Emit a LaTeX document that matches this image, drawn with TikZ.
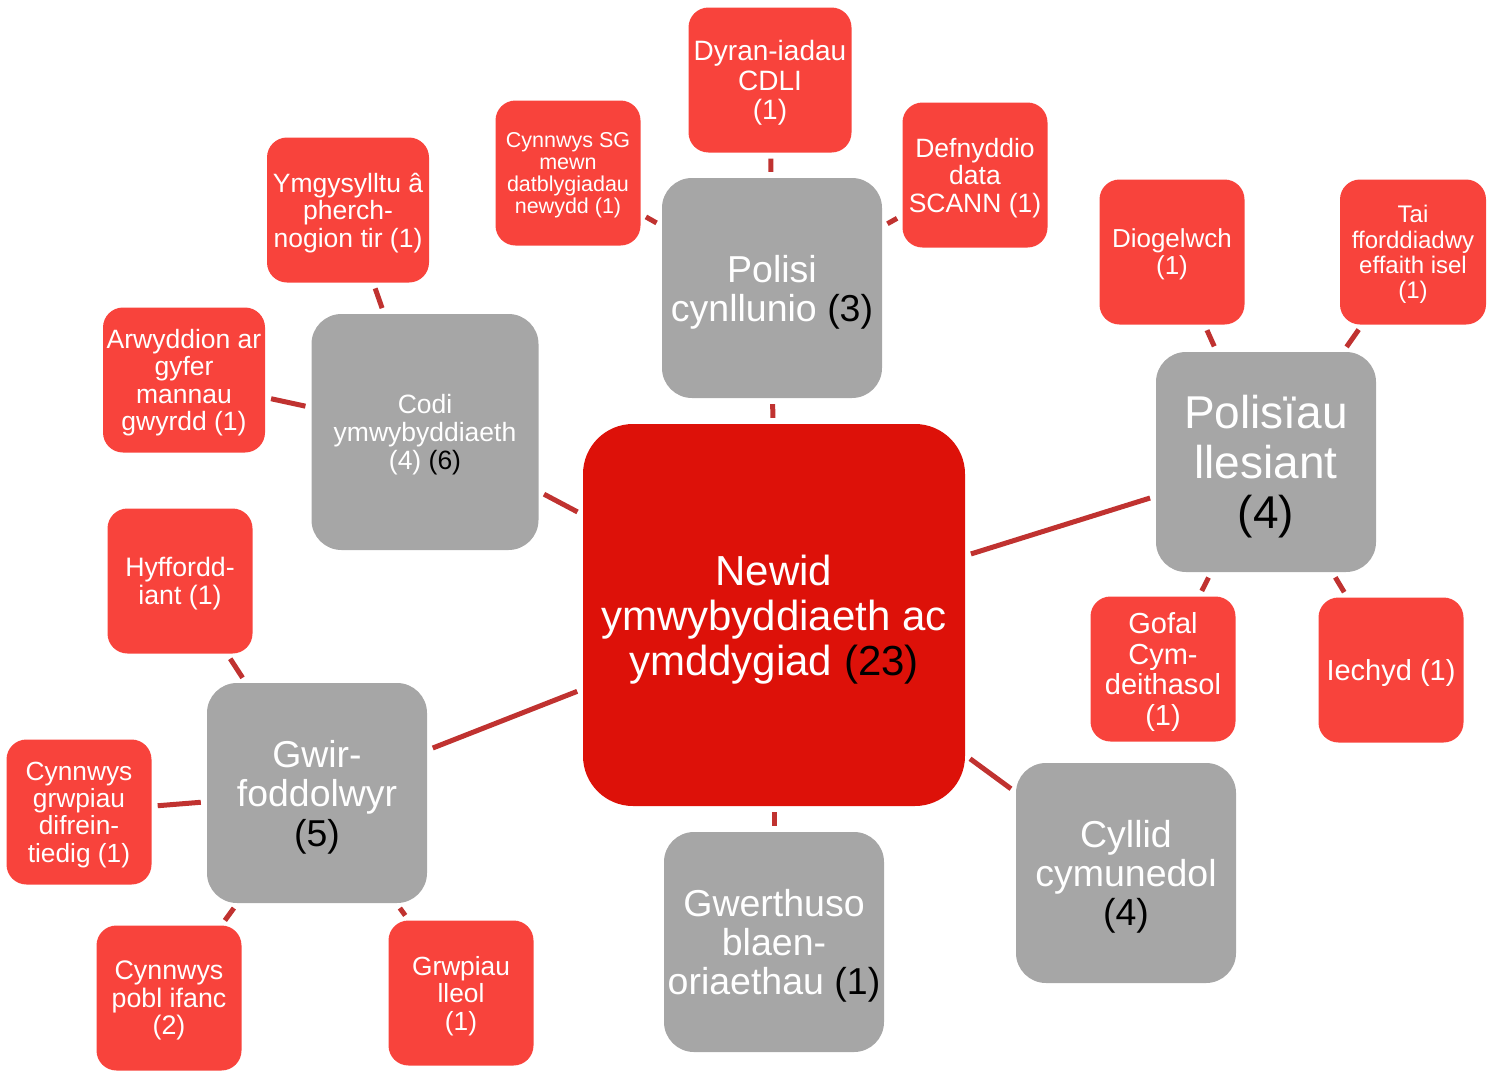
\documentclass[tikz,border=0pt]{standalone}
\usepackage{fontspec}
\setmainfont{Liberation Sans}
\definecolor{hubred}{RGB}{221,17,9}
\definecolor{leafred}{RGB}{248,67,60}
\definecolor{topicgray}{RGB}{166,166,166}
\definecolor{linkred}{RGB}{192,50,48}
\newcommand\blk[1]{\textcolor{black}{#1}}
\newcommand\fs[2]{\fontsize{#1}{#2}\selectfont}
\tikzset{
  box/.style={rectangle, inner sep=0pt, align=center, text=white, text depth=0pt},
  hub/.style={box, fill=hubred, minimum width=382pt, minimum height=382pt,
    rounded corners=50pt, font=\fs{42}{45}},
  topic/.style={box, fill=topicgray, minimum width=220pt, minimum height=220pt,
    rounded corners=30pt, font=\fs{37.5}{39}},
  leaf/.style={box, fill=leafred, minimum width=145pt, minimum height=145pt,
    rounded corners=20pt, font=\fs{26.5}{27.5}},
  link/.style={draw=linkred, line width=5pt, shorten >=6pt, shorten <=6pt}
}
\begin{document}
\begin{tikzpicture}[x=1pt, y=-1pt]
  \useasboundingbox (0,0) rectangle (1494,1071);
  % centre
  \node[hub] (hub) at (774,615) {Newid\\ymwybyddiaeth ac\\ymddygiad \blk{(23)}};
  % grey topics round the centre
  \node[topic] (pol) at (772,288) {Polisi\\cynllunio \blk{(3)}};
  \node[topic, minimum width=227pt, minimum height=236pt, font=\fs{26.5}{28.3}]
    (codi) at (425,432) {Codi\\ymwybyddiaeth\\(4) \blk{(6)}};
  \node[topic, font=\fs{46}{50}] (lles) at (1266,462) {Polisïau\\llesiant\\\blk{(4)}};
  \node[topic, font=\fs{37.4}{39.5}] (gwir) at (317,793) {Gwir-\\foddolwyr\\\blk{(5)}};
  \node[topic] (gwer) at (774,942) {Gwerthuso\\blaen-\\oriaethau \blk{(1)}};
  \node[topic] (cyll) at (1126,873) {Cyllid\\cymunedol\\\blk{(4)}};
  % red leaves of Polisi cynllunio
  \node[leaf, minimum width=163pt, font=\fs{28}{29.5}] (dyr) at (770,80) {Dyran-iadau\\CDLI\\(1)};
  \node[leaf, font=\fs{21.5}{22}] (sg) at (568,173) {Cynnwys SG\\mewn\\datblygiadau\\newydd (1)};
  \node[leaf] (defn) at (975,175) {Defnyddio\\data\\SCANN (1)};
  % leaves of Codi ymwybyddiaeth
  \node[leaf, minimum width=162pt] (ymg) at (348,210) {Ymgysylltu â\\pherch-\\nogion tir (1)};
  \node[leaf, minimum width=162pt] (arw) at (184,380) {Arwyddion ar\\gyfer\\mannau\\gwyrdd (1)};
  % leaves of Polisïau llesiant
  \node[leaf, font=\fs{26}{27}] (diog) at (1172,252) {Diogelwch\\(1)};
  \node[leaf, minimum width=146pt, font=\fs{24}{25.3}] (tai) at (1413,252) {Tai\\fforddiadwy\\effaith isel\\(1)};
  \node[leaf, font=\fs{29}{30.7}] (gof) at (1163,669) {Gofal\\Cym-\\deithasol\\(1)};
  \node[leaf, font=\fs{29}{30}] (iech) at (1391,670) {Iechyd (1)};
  % leaves of Gwirfoddolwyr
  \node[leaf, font=\fs{26.7}{28}] (hyf) at (180,581) {Hyffordd-\\iant (1)};
  \node[leaf, font=\fs{26.3}{27.3}] (grw) at (79,812) {Cynnwys\\grwpiau\\difrein-\\tiedig (1)};
  \node[leaf, font=\fs{26.8}{27.5}] (ifanc) at (169,998) {Cynnwys\\pobl ifanc\\(2)};
  \node[leaf, font=\fs{26.3}{27.5}] (lleol) at (461,993) {Grwpiau\\lleol\\(1)};
  % connectors
  \foreach \a/\b in {hub/pol, hub/codi, hub/lles, hub/gwir, hub/gwer, hub/cyll,
    pol/dyr, pol/sg, pol/defn, codi/ymg, codi/arw,
    lles/diog, lles/tai, lles/gof, lles/iech,
    gwir/hyf, gwir/grw, gwir/ifanc, gwir/lleol}
    \draw[link] (\a) -- (\b);
\end{tikzpicture}
\end{document}
